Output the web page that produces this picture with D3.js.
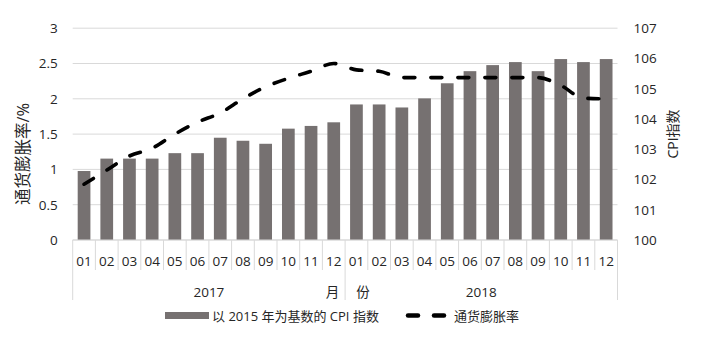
<!DOCTYPE html>
<html><head><meta charset="utf-8">
<script src="https://cdn.jsdelivr.net/npm/d3@7"></script>
<style>
html,body{margin:0;padding:0;background:#fff;}
text{font-family:"Open Sans","Noto Sans CJK SC",sans-serif;fill:#262626;}
</style></head>
<body><svg id="c" width="706" height="343"></svg>
<script>
const months = ["01","02","03","04","05","06","07","08","09","10","11","12","01","02","03","04","05","06","07","08","09","10","11","12"];
const years = ["2017","2018"];
const cpiIndex = [102.28,102.69,102.69,102.69,102.87,102.87,103.38,103.28,103.18,103.68,103.77,103.89,
                  104.48,104.48,104.38,104.68,105.18,105.58,105.78,105.88,105.58,105.98,105.88,105.98];
const inflation = [0.79,0.99,1.19,1.30,1.50,1.67,1.80,2.00,2.17,2.29,2.39,2.50,
                   2.41,2.39,2.30,2.30,2.30,2.30,2.30,2.30,2.30,2.19,2.01,2.00];
const leftTicks = [0,0.5,1,1.5,2,2.5,3];
const rightTicks = [100,101,102,103,104,105,106,107];

const svg = d3.select("#c");
const L = 72.7, R = 617.5, T = 28.2, B = 240;
const x = d3.scaleBand().domain(d3.range(months.length)).range([L,R]).paddingInner(0.44).paddingOuter(0.22);
const xb = d3.scaleBand().domain(d3.range(months.length)).range([L,R]);
const yL = d3.scaleLinear().domain([0,3]).range([B,T]);
const yR = d3.scaleLinear().domain([100,107]).range([B,T]);

// gridlines
svg.append("g").selectAll("line").data(leftTicks).join("line")
  .attr("x1",L).attr("x2",R).attr("y1",d=>yL(d)).attr("y2",d=>yL(d))
  .attr("stroke","#d9d9d9").attr("stroke-width",1);

// left axis labels
const gl = svg.append("g").attr("transform",`translate(${L},0)`)
  .call(d3.axisLeft(yL).tickValues(leftTicks).tickSize(0).tickPadding(15).tickFormat(d=>String(d)));
gl.select(".domain").remove();
gl.selectAll("text").attr("font-size",13.5).style("fill","#262626").attr("font-family","'Open Sans',sans-serif");

// right axis labels
const gr = svg.append("g").attr("transform",`translate(${R},0)`)
  .call(d3.axisRight(yR).tickValues(rightTicks).tickSize(0).tickPadding(16).tickFormat(d=>String(d)));
gr.select(".domain").remove();
gr.selectAll("text").attr("font-size",13.5).style("fill","#262626").attr("font-family","'Open Sans',sans-serif");

// bars
svg.append("g").selectAll("rect").data(cpiIndex).join("rect")
  .attr("x",(d,i)=>x(i)).attr("width",x.bandwidth())
  .attr("y",d=>yR(d)).attr("height",d=>B-yR(d))
  .attr("fill","#767171");

// line
const line = d3.line().x((d,i)=>xb(i)+xb.bandwidth()/2).y(d=>yL(d)).curve(d3.curveMonotoneX);
svg.append("path").datum(inflation).attr("d",line)
  .attr("fill","none").attr("stroke","#000").attr("stroke-width",3.6)
  .attr("stroke-dasharray","11,16").attr("stroke-linecap","round");

// category axis table
const axG = svg.append("g");
axG.append("line").attr("x1",L).attr("x2",R).attr("y1",B).attr("y2",B).attr("stroke","#d9d9d9");
axG.selectAll("line.sep").data(d3.range(months.length+1)).join("line").attr("class","sep")
  .attr("x1",i=>L+i*xb.step()).attr("x2",i=>L+i*xb.step())
  .attr("y1",B).attr("y2",i=>(i%12===0)?300:270)
  .attr("stroke","#d9d9d9");
axG.selectAll("text.m").data(months).join("text").attr("class","m")
  .attr("x",(d,i)=>xb(i)+xb.bandwidth()/2).attr("y",265.5)
  .attr("text-anchor","middle").attr("font-size",13.5).text(d=>d);
years.forEach((yv,k)=>{
  const cx = L + (k*12+6)*xb.step();
  axG.append("text").attr("x",cx).attr("y",297).attr("text-anchor","middle").attr("font-size",13.5).text(yv);
});
axG.append("text").attr("x",L+12*xb.step()-12.5).attr("y",297).attr("text-anchor","middle")
  .attr("font-size",13.5).attr("font-family","'Noto Sans CJK SC'").text("月");
axG.append("text").attr("x",L+12*xb.step()+18).attr("y",297).attr("text-anchor","middle")
  .attr("font-size",13.5).attr("font-family","'Noto Sans CJK SC'").text("份");

// axis titles
svg.append("text").attr("transform","translate(29,154) rotate(-90)").attr("text-anchor","middle")
  .attr("font-size",16.5).attr("font-family","'Noto Sans CJK SC'").text("通货膨胀率/%");
svg.append("text").attr("transform","translate(678,134) rotate(-90)").attr("text-anchor","middle")
  .attr("font-size",14).attr("font-family","'Open Sans','Noto Sans CJK SC'").text("CPI指数");

// legend
const lg = svg.append("g");
lg.append("rect").attr("x",165).attr("y",312).attr("width",44).attr("height",7).attr("fill","#767171");
lg.append("text").attr("x",212).attr("y",320.5).attr("font-size",13)
  .attr("font-family","'Open Sans','Noto Sans CJK SC'").text("以 2015 年为基数的 CPI 指数");
[[408,418],[434,444]].forEach(s=>{
  lg.append("line").attr("x1",s[0]).attr("x2",s[1]).attr("y1",315.5).attr("y2",315.5)
    .attr("stroke","#000").attr("stroke-width",4.5).attr("stroke-linecap","round");
});
lg.append("text").attr("x",454).attr("y",320.5).attr("font-size",13)
  .attr("font-family","'Noto Sans CJK SC'").text("通货膨胀率");
</script></body></html>
